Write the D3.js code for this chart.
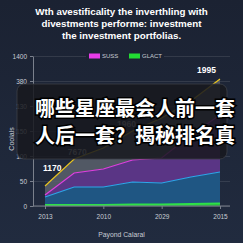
<!DOCTYPE html>
<meta charset="utf-8">
<style>
  body { margin: 0; background: #1d2537; }
  svg { display: block; font-family: "Liberation Sans", Arial, sans-serif; }
  .title { fill: #fff; font-weight: bold; font-size: 9.8px; text-anchor: middle; }
  .axis text { fill: #c8ccd4; font-size: 6.5px; }
  .axis path, .axis line { stroke: #7a808c; }
  .grid line { stroke: #fff; stroke-opacity: 0.1; }
  .grid path { display: none; }
  .lbl { font-size: 8.5px; font-weight: bold; }
  .overlay text {
      font-family: "Noto Sans CJK SC", sans-serif;
      font-weight: bold;
      font-size: 20px;
      fill: #fff;
      stroke: #000;
      stroke-width: 3px;
      paint-order: stroke;
  }
</style>
<body>
<svg width="243" height="243"></svg>
<script src="https://cdn.jsdelivr.net/npm/d3@7/dist/d3.min.js"></script>
<script>

// chart values
var years = ["2013", "", "2010", "", "2029", "", "2015"];
var blue = [18, 38, 38, 48, 46, 58, 68];
var magenta = [22, 66, 74, 92, 96, 142, 182];
var yellow = [40, 94, 116, 150, 176, 210, 254];
var green = [2, 2, 2, 3, 3, 4, 5];
var yTickLabels = ["0", "50", "100", "150", "130", "380", "1400"];
var pointLabels = ["1170", "7670", null, "1960", null, null, "1995"];
var titleLines = ["Wth avestificality the inverthling with",
                  "divestments performe: investment",
                  "the investment portfolias."];
var legendNames = ["SUSS", "GLACT"];
var overlayLines = ["哪些星座最会人前一套", "人后一套？揭秘排名真"];

var svg = d3.select("svg"),
    width = +svg.attr("width"),
    height = +svg.attr("height");

var defs = svg.append("defs");
var bg = defs.append("linearGradient").attr("id", "bg")
    .attr("x1", 0).attr("y1", 0).attr("x2", 0).attr("y2", 1);
bg.append("stop").attr("offset", 0).attr("stop-color", "#1b2232");
bg.append("stop").attr("offset", 1).attr("stop-color", "#212b3f");
svg.append("rect").attr("width", width).attr("height", height).attr("fill", "url(#bg)");

svg.selectAll(".title")
    .data(titleLines)
    .enter().append("text")
    .attr("class", "title")
    .attr("x", width / 2)
    .attr("y", function(d, i) { return 15 + i * 12; })
    .text(function(d) { return d; });

var x = d3.scaleLinear().domain([0, years.length - 1]).range([45, 220]);
var y = d3.scaleLinear().domain([0, 300]).range([206, 56]);
var left = 33, right = 230;

// grid
svg.append("g")
    .attr("class", "grid")
    .attr("transform", "translate(" + left + ",0)")
    .call(d3.axisRight(y).ticks(6).tickSize(right - left).tickFormat(""));

// areas
var area = function(top, bottom) {
  return d3.area()
    .x(function(d, i) { return x(i); })
    .y0(function(d, i) { return y(bottom ? bottom[i] : 0); })
    .y1(function(d, i) { return y(top[i]); })(top);
};
var line = d3.line()
    .x(function(d, i) { return x(i); })
    .y(function(d) { return y(d); });

svg.append("path").attr("d", area(yellow, magenta)).attr("fill", "#5a606c").attr("fill-opacity", 0.85);
svg.append("path").attr("d", area(magenta, blue)).attr("fill", "#5a3585");
svg.append("path").attr("d", area(blue)).attr("fill", "#1f5683");
svg.append("path").attr("d", area(green)).attr("fill", "#1faa35");

svg.append("path").attr("d", line(yellow)).attr("fill", "none").attr("stroke", "#e8c41e").attr("stroke-width", 1.2);
svg.append("path").attr("d", line(magenta)).attr("fill", "none").attr("stroke", "#e040e0").attr("stroke-width", 1.2);
svg.append("path").attr("d", line(blue)).attr("fill", "none").attr("stroke", "#2ea6ea").attr("stroke-width", 1.2);
svg.append("path").attr("d", line(green)).attr("fill", "none").attr("stroke", "#2ee048").attr("stroke-width", 2);

// axes
svg.append("g")
    .attr("class", "axis")
    .attr("transform", "translate(" + left + ",0)")
    .call(d3.axisLeft(y).ticks(6).tickSize(3).tickSizeOuter(0)
        .tickFormat(function(d, i) { return yTickLabels[i]; }));

var xAxis = svg.append("g")
    .attr("class", "axis")
    .attr("transform", "translate(0," + y(0) + ")")
    .call(d3.axisBottom(x).tickValues([0, 2, 4, 6]).tickSize(3).tickSizeOuter(0)
        .tickFormat(function(d) { return years[d]; }));
xAxis.select(".domain").attr("d", "M" + left + ",0H" + right);
xAxis.selectAll("text").attr("dy", "1.05em");

svg.append("text")
    .attr("transform", "translate(14,139) rotate(-90)")
    .attr("text-anchor", "middle")
    .attr("fill", "#c8ccd4")
    .attr("font-size", 7)
    .text("Coolals");

svg.append("text")
    .attr("x", width / 2)
    .attr("y", 237)
    .attr("text-anchor", "middle")
    .attr("fill", "#c8ccd4")
    .attr("font-size", 6.8)
    .text("Payond Calaral");

// point labels on the yellow line
var lblOffset = { 0: [-2, -15], 1: [3, -4], 3: [-6, -4], 6: [-4, -6] };
pointLabels.forEach(function(t, i) {
  if (!t) return;
  svg.append("text")
      .attr("class", "lbl")
      .attr("x", x(i) + lblOffset[i][0])
      .attr("y", y(yellow[i]) + lblOffset[i][1])
      .attr("text-anchor", i == 6 ? "end" : (i == 0 ? "start" : "middle"))
      .attr("fill", i == 0 || i == 6 ? "#fff" : "#aaa")
      .text(t);
});

// legend
var legendColors = ["#e83ce8", "#22dd33"];
var lg = svg.append("g").attr("transform", "translate(86," + y(300) + ")");
lg.append("rect").attr("x", 0).attr("y", -4).attr("width", 78).attr("height", 8).attr("fill", "#1c2334");
var item = lg.selectAll(".item")
    .data(legendNames)
    .enter().append("g")
    .attr("transform", function(d, i) { return "translate(" + (3 + i * 40) + ",0)"; });
item.append("rect")
    .attr("y", -2.5).attr("width", 11).attr("height", 5)
    .attr("fill", function(d, i) { return legendColors[i]; });
item.append("text")
    .attr("x", 13).attr("y", 2.2)
    .attr("fill", "#c8ccd4").attr("font-size", 6)
    .text(function(d) { return d; });

// overlay caption box
var ov = svg.append("g").attr("class", "overlay");
ov.append("rect")
    .attr("x", 17).attr("y", 84).attr("width", 210).attr("height", 75).attr("rx", 7)
    .attr("fill", "#17191e").attr("fill-opacity", 0.86)
    .attr("stroke", "#3c4048").attr("stroke-width", 0.8);
ov.selectAll("text")
    .data(overlayLines)
    .enter().append("text")
    .attr("x", 35)
    .attr("y", function(d, i) { return 116 + i * 27; })
    .text(function(d) { return d; });

</script>
</body>
